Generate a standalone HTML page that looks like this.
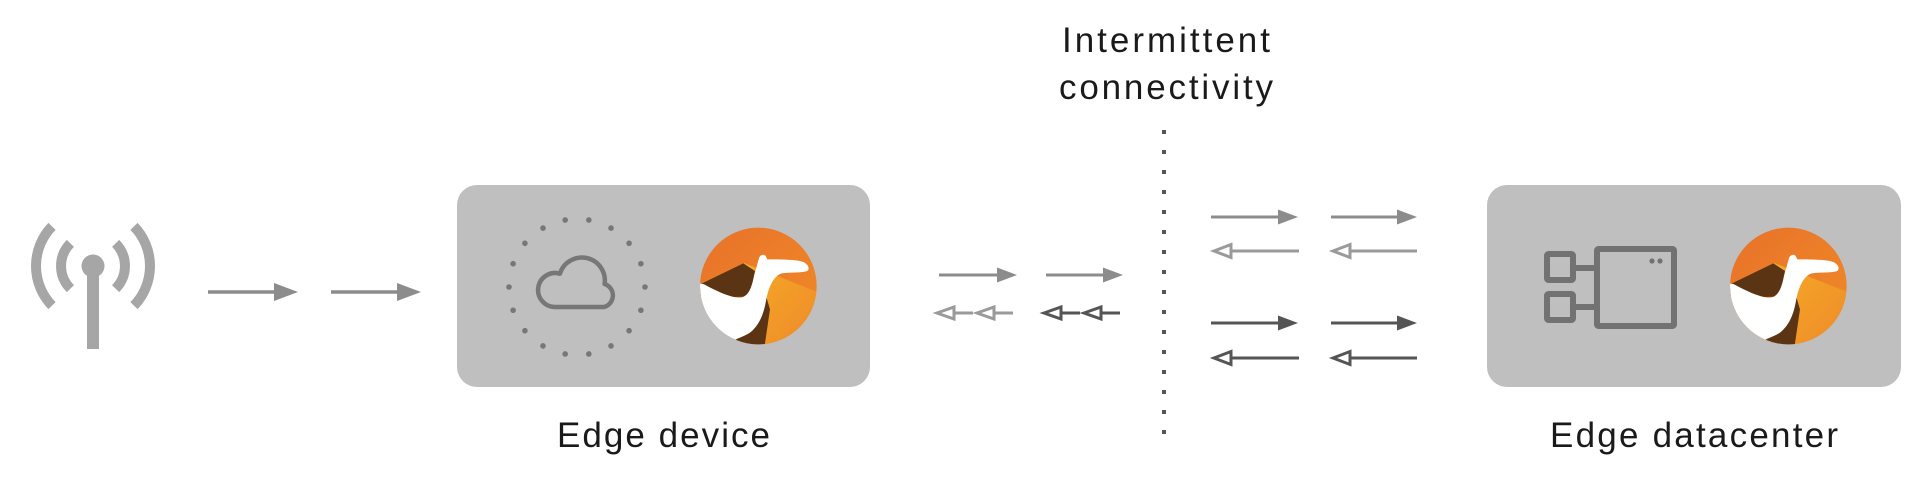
<!DOCTYPE html>
<html><head><meta charset="utf-8"><style>
html,body{margin:0;padding:0;background:#fff;}
svg{display:block;}
text{font-family:"Liberation Sans",sans-serif;fill:#1a1a1a;}
</style></head><body>
<svg width="1920" height="478" viewBox="0 0 1920 478" xmlns="http://www.w3.org/2000/svg">
<defs>
<clipPath id="lc"><circle cx="175" cy="180" r="175"/></clipPath>
<linearGradient id="lg1" x1="0" y1="0" x2="1" y2="1"><stop offset="0" stop-color="#e8712a"/><stop offset="1" stop-color="#f08c27"/></linearGradient>
<linearGradient id="lg2" x1="0" y1="0" x2="1" y2="1"><stop offset="0" stop-color="#f6aa28"/><stop offset="1" stop-color="#ee8829"/></linearGradient>
<g id="logo">
<g clip-path="url(#lc)">
<rect x="-5" y="-5" width="370" height="370" fill="url(#lg1)"/>
<polygon points="130,110 370,205 370,370 185,370 205,240" fill="url(#lg2)"/>
<polygon points="-10,180 130,112 165,135 150,212 -10,215" fill="#5b3413"/>
<polygon points="195,200 210,250 192,372 90,372" fill="#5b3413"/>
<path d="M -20,170 L 10,174 C 50,195 90,215 120,215 C 145,213 155,185 162,150 L 176,100 C 178,88 190,82 197,90 L 202,100 C 240,100 290,100 310,108 C 325,115 330,128 322,135 C 300,142 270,138 245,142 C 220,150 205,185 198,225 C 190,270 175,300 150,320 C 130,333 110,338 95,345 L -20,362 Z" fill="#ffffff"/>
</g>
</g>
</defs>

<!-- Antenna -->
<g fill="none" stroke="#a6a6a6" stroke-width="10" stroke-linecap="butt">
<path d="M 52,226.4 A 57 57 0 0 0 52,305.6"/>
<path d="M 134,226.4 A 57 57 0 0 1 134,305.6"/>
<path d="M 70.4,243.4 A 32 32 0 0 0 70.4,288.6"/>
<path d="M 115.6,243.4 A 32 32 0 0 1 115.6,288.6"/>
</g>
<rect x="87" y="266" width="12" height="83" fill="#a6a6a6"/>
<circle cx="93" cy="266" r="11.5" fill="#a6a6a6"/>

<!-- antenna arrows -->
<g fill="#8c8c8c" stroke="#8c8c8c">
<line x1="208" y1="292" x2="276" y2="292" stroke-width="3.5"/>
<polygon points="274,283 298,292 274,301" stroke="none"/>
<line x1="331" y1="292" x2="399" y2="292" stroke-width="3.5"/>
<polygon points="397,283 421,292 397,301" stroke="none"/>
</g>

<!-- Edge device box -->
<rect x="457" y="185" width="413" height="202" rx="20" ry="20" fill="#bfbfbf"/>
<g transform="translate(577,287)" fill="#777">
<circle cx="0" cy="-68" r="2.8" transform="rotate(10)"/>
<circle cx="0" cy="-68" r="2.8" transform="rotate(30)"/>
<circle cx="0" cy="-68" r="2.8" transform="rotate(50)"/>
<circle cx="0" cy="-68" r="2.8" transform="rotate(70)"/>
<circle cx="0" cy="-68" r="2.8" transform="rotate(90)"/>
<circle cx="0" cy="-68" r="2.8" transform="rotate(110)"/>
<circle cx="0" cy="-68" r="2.8" transform="rotate(130)"/>
<circle cx="0" cy="-68" r="2.8" transform="rotate(150)"/>
<circle cx="0" cy="-68" r="2.8" transform="rotate(170)"/>
<circle cx="0" cy="-68" r="2.8" transform="rotate(190)"/>
<circle cx="0" cy="-68" r="2.8" transform="rotate(210)"/>
<circle cx="0" cy="-68" r="2.8" transform="rotate(230)"/>
<circle cx="0" cy="-68" r="2.8" transform="rotate(250)"/>
<circle cx="0" cy="-68" r="2.8" transform="rotate(270)"/>
<circle cx="0" cy="-68" r="2.8" transform="rotate(290)"/>
<circle cx="0" cy="-68" r="2.8" transform="rotate(310)"/>
<circle cx="0" cy="-68" r="2.8" transform="rotate(330)"/>
<circle cx="0" cy="-68" r="2.8" transform="rotate(350)"/>
</g>
<path d="M 555,307 A 17 17 0 1 1 559.9,273.7 A 23 23 0 0 1 604.6,284 A 12 12 0 0 1 604,307 Z" fill="none" stroke="#777" stroke-width="4.5" stroke-linejoin="round"/>
<use href="#logo" transform="translate(700,226) scale(0.3333)"/>
<text x="557" y="447" font-size="35" textLength="213" lengthAdjust="spacing">Edge device</text>

<!-- middle arrows -->
<g fill="#8c8c8c" stroke="#8c8c8c">
<line x1="939" y1="275" x2="999" y2="275" stroke-width="3"/>
<polygon points="997,267.5 1017,275 997,282.5" stroke="none"/>
<line x1="1046" y1="275" x2="1105" y2="275" stroke-width="3"/>
<polygon points="1103,267.5 1123,275 1103,282.5" stroke="none"/>
</g>
<g fill="#fff" stroke="#9a9a9a" stroke-width="3">
<polygon points="937,313 954,307 954,319"/>
<line x1="955" y1="313" x2="973" y2="313"/>
<polygon points="977,313 994,307 994,319"/>
<line x1="995" y1="313" x2="1013" y2="313"/>
</g>
<g fill="#fff" stroke="#555" stroke-width="3">
<polygon points="1044,313 1061,307 1061,319"/>
<line x1="1062" y1="313" x2="1080" y2="313"/>
<polygon points="1084,313 1101,307 1101,319"/>
<line x1="1102" y1="313" x2="1120" y2="313"/>
</g>

<!-- dotted line -->
<line x1="1164" y1="130" x2="1164" y2="434" stroke="#555" stroke-width="4" stroke-dasharray="4 16"/>

<text x="1062" y="52" font-size="35" textLength="208" lengthAdjust="spacing">Intermittent</text>
<text x="1059" y="99" font-size="35" textLength="214" lengthAdjust="spacing">connectivity</text>

<!-- right arrows -->
<g fill="#8c8c8c" stroke="#8c8c8c">
<line x1="1211" y1="217" x2="1280" y2="217" stroke-width="3"/>
<polygon points="1278,209.5 1298,217 1278,224.5" stroke="none"/>
<line x1="1331" y1="217" x2="1399" y2="217" stroke-width="3"/>
<polygon points="1397,209.5 1417,217 1397,224.5" stroke="none"/>
</g>
<g fill="#fff" stroke="#9a9a9a" stroke-width="3">
<polygon points="1214,251 1231,244.5 1231,257.5"/>
<line x1="1232" y1="251" x2="1299" y2="251"/>
<polygon points="1333,251 1350,244.5 1350,257.5"/>
<line x1="1351" y1="251" x2="1417" y2="251"/>
</g>
<g fill="#555" stroke="#555">
<line x1="1211" y1="323" x2="1280" y2="323" stroke-width="3"/>
<polygon points="1278,315.5 1298,323 1278,330.5" stroke="none"/>
<line x1="1331" y1="323" x2="1399" y2="323" stroke-width="3"/>
<polygon points="1397,315.5 1417,323 1397,330.5" stroke="none"/>
</g>
<g fill="#fff" stroke="#555" stroke-width="3">
<polygon points="1214,358 1231,351.5 1231,364.5"/>
<line x1="1232" y1="358" x2="1299" y2="358"/>
<polygon points="1333,358 1350,351.5 1350,364.5"/>
<line x1="1351" y1="358" x2="1417" y2="358"/>
</g>

<!-- Edge datacenter box -->
<rect x="1487" y="185" width="414" height="202" rx="20" ry="20" fill="#bfbfbf"/>
<g fill="none" stroke="#727272" stroke-width="6" stroke-linejoin="round">
<rect x="1547" y="254" width="26" height="26" rx="1.5"/>
<rect x="1547" y="294" width="26" height="26" rx="1.5"/>
<rect x="1597" y="249" width="77" height="77" rx="1.5"/>
<line x1="1573" y1="268" x2="1597" y2="268"/>
<line x1="1573" y1="307" x2="1597" y2="307"/>
</g>
<circle cx="1652" cy="261" r="2.6" fill="#727272"/>
<circle cx="1660" cy="261" r="2.6" fill="#727272"/>
<use href="#logo" transform="translate(1730,226) scale(0.3333)"/>
<text x="1550" y="447" font-size="35" textLength="288" lengthAdjust="spacing">Edge datacenter</text>
</svg>
</body></html>
